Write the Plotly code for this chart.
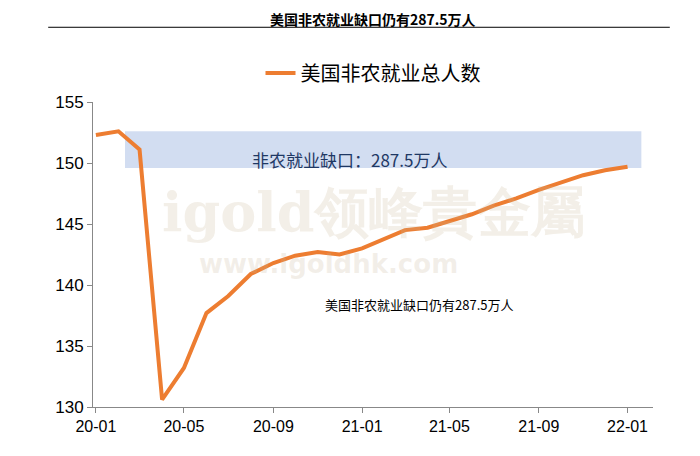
import plotly.graph_objects as go
import pandas as pd

months = pd.date_range("2020-01-01", "2022-01-01", freq="MS").strftime("%Y-%m-%d").tolist()
payrolls = [152.3, 152.6, 151.1, 130.6, 133.2, 137.7, 139.1, 140.9, 141.8, 142.4, 142.7, 142.5,
            143.0, 143.8, 144.5, 144.7, 145.2, 145.8, 146.5, 147.1, 147.8, 148.4, 149.0, 149.4, 149.7]
tick_vals = ["2020-01-01", "2020-05-01", "2020-09-01", "2021-01-01", "2021-05-01", "2021-09-01", "2022-01-01"]
tick_text = ["20-01", "20-05", "20-09", "21-01", "21-05", "21-09", "22-01"]
gap_label = "非农就业缺口：287.5万人"
title = "美国非农就业缺口仍有287.5万人"

fig = go.Figure()
fig.add_trace(go.Scatter(x=months, y=payrolls, mode="lines", name="美国非农就业总人数",
                         line=dict(color="#ED7D31", width=4), showlegend=True))
fig.add_shape(type="rect", xref="x", yref="y", x0="2020-02-10", x1="2022-01-20", y0=149.6, y1=152.6,
              fillcolor="rgba(180,199,231,0.6)", line_width=0, layer="below")
fig.add_annotation(x="2020-12-15", y=150.3, text=gap_label, showarrow=False,
                   font=dict(size=17, color="#1F3864", family="Noto Sans CJK SC"))
fig.add_annotation(x="2021-03-20", y=138.4, text=title, showarrow=False,
                   font=dict(size=13, color="#000", family="Noto Sans CJK SC"))
fig.add_annotation(xref="paper", yref="paper", x=0.5, y=0.64, text="<b>igold领峰貴金屬</b>", showarrow=False,
                   font=dict(size=54, color="rgba(200,180,150,0.22)", family="DejaVu Serif"))
fig.add_annotation(xref="paper", yref="paper", x=0.42, y=0.47, text="<b>www.igoldhk.com</b>", showarrow=False,
                   font=dict(size=26, color="rgba(200,180,150,0.22)", family="DejaVu Sans"))
fig.add_annotation(xref="paper", yref="paper", x=0.5, y=1.31, text="<b>" + title + "</b>", showarrow=False,
                   font=dict(size=14, color="#000", family="Noto Sans CJK SC"))
fig.add_shape(type="line", xref="paper", yref="paper", x0=-0.08, x1=1.03, y0=1.245, y1=1.245,
              line=dict(color="#000", width=1))
fig.update_layout(
    width=700, height=456, margin=dict(l=85, r=55, t=94, b=57),
    plot_bgcolor="white", paper_bgcolor="white", showlegend=True,
    font=dict(family="Noto Sans CJK SC", size=16, color="#000"),
    legend=dict(orientation="h", x=0.5, xanchor="center", y=1.095, yanchor="middle",
                font=dict(size=20)),
    xaxis=dict(tickvals=tick_vals, ticktext=tick_text, range=["2019-12-28", "2022-02-05"],
               showgrid=False, showline=True, linecolor="#888", ticks="outside", ticklen=5,
               tickcolor="#888", tickfont=dict(size=16, family="Liberation Sans")),
    yaxis=dict(range=[130, 155], dtick=5, showgrid=False, showline=True, linecolor="#888",
               ticks="outside", ticklen=5, tickcolor="#888", zeroline=False,
               tickfont=dict(size=17, family="Liberation Sans")),
)
fig.write_html("out.html")
